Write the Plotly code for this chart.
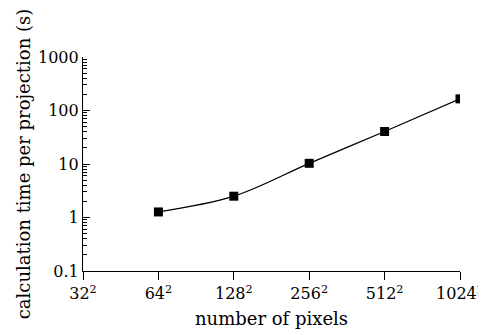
import plotly.graph_objects as go

side = [64, 128, 256, 512, 1024]
time_s = [1.27, 2.5, 10.3, 40.5, 165]
xtick_vals = [32, 64, 128, 256, 512, 1024]
xtick_text = [f"{v}<sup>2</sup>" for v in xtick_vals]
ytick_vals = [0.1, 1, 10, 100, 1000]
ytick_text = ["0.1", "1", "10", "100", "1000"]
ydecades = [0.1, 1, 10, 100]
minor_vals = [d * m for d in ydecades for m in range(2, 10)]

font = dict(family="DejaVu Serif", size=16, color="black")

fig = go.Figure()
fig.add_trace(go.Scatter(
    x=side, y=time_s, mode="lines+markers",
    line=dict(color="black", width=1.3, shape="spline", smoothing=1.0),
    marker=dict(symbol="square", size=9, color="black"),
    showlegend=False,
))

# page body has an 8px default margin; margins below compensate for it
fig.update_layout(
    width=486, height=335,
    margin=dict(l=75, r=34, t=49, b=72),
    paper_bgcolor="white", plot_bgcolor="white",
    font=font,
    xaxis=dict(
        type="log", range=[1.50515, 3.0103], automargin=False,
        tickvals=xtick_vals, ticktext=xtick_text,
        ticks="outside", ticklen=8, tickcolor="black", tickwidth=1,
        showline=True, linecolor="black", linewidth=1.2,
        showgrid=False, zeroline=False,
        title=dict(text="number of pixels", standoff=10, font=dict(size=18)),
    ),
    yaxis=dict(
        type="log", range=[-1, 3], automargin=False,
        tickvals=ytick_vals, ticktext=ytick_text,
        ticks="inside", ticklen=7, tickcolor="black", tickwidth=1,
        minor=dict(ticks="inside", ticklen=4, tickcolor="black",
                   tickvals=minor_vals, showgrid=False),
        showline=True, linecolor="black", linewidth=1.2,
        showgrid=False, zeroline=False,
        title=dict(text="calculation time per projection (s)", standoff=2, font=dict(size=18)),
    ),
)

fig.write_html("out.html")
